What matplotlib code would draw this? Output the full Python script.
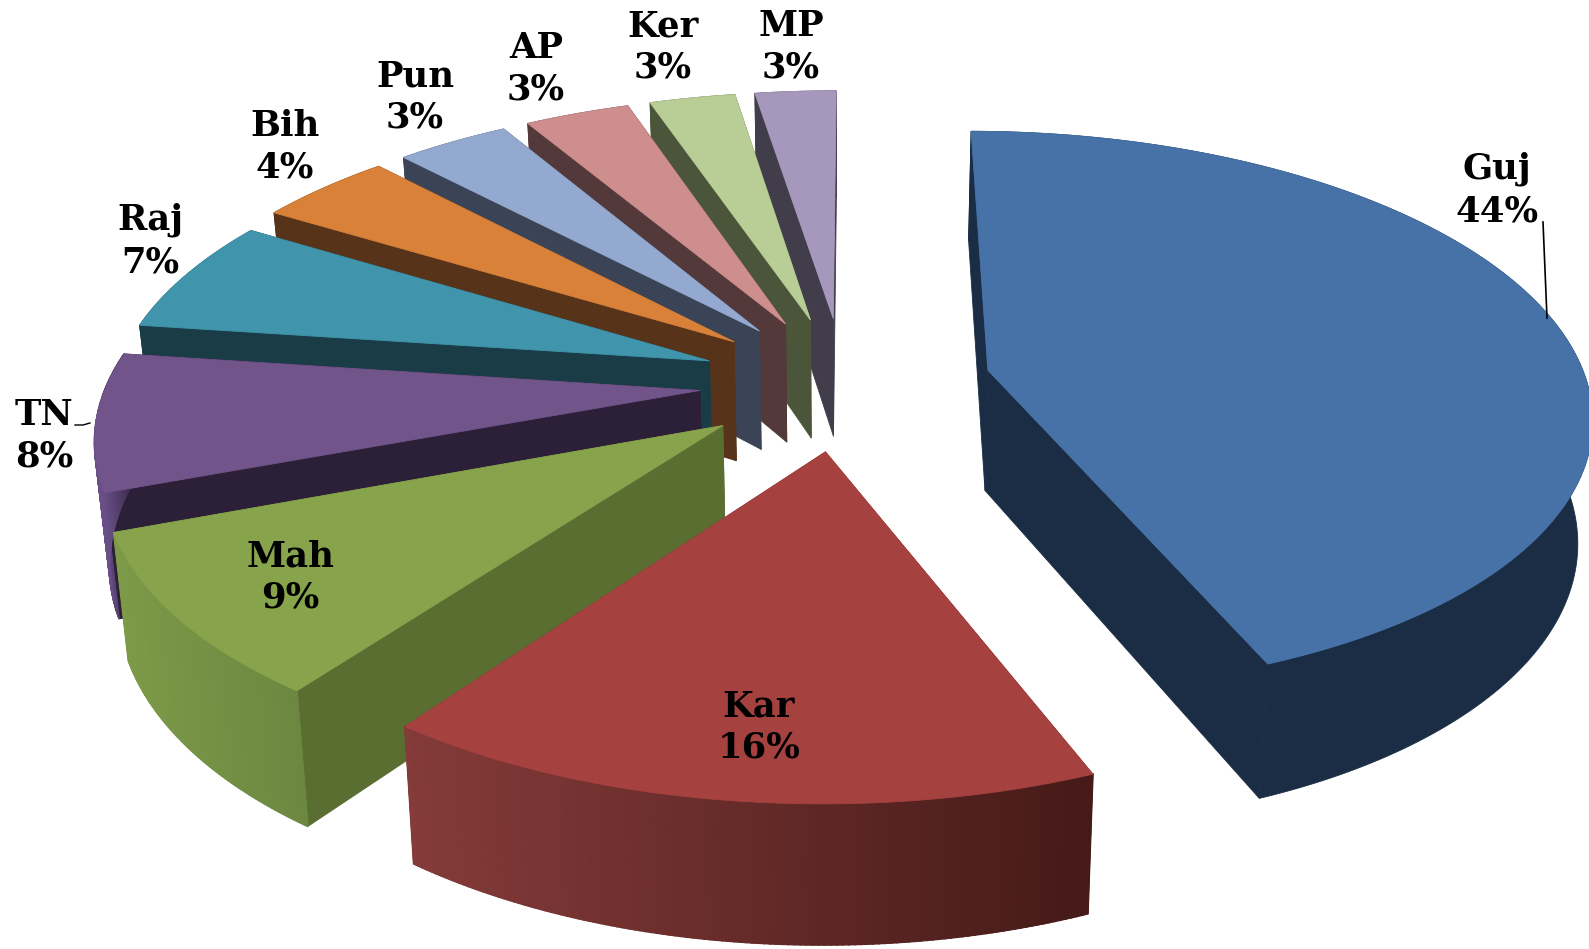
import numpy as np
import matplotlib
matplotlib.use("Agg")
import matplotlib.pyplot as plt

# data
names = ["Guj", "Kar", "Mah", "TN", "Raj", "Bih", "Pun", "AP", "Ker", "MP"]
shares = [43.85, 16.15, 9.25, 7.85, 6.55, 4.25, 3.55, 3.3, 2.7, 2.55]
printed_pct = [44, 16, 9, 8, 7, 4, 3, 3, 3, 3]

# style
top_colors = ["#4672a8", "#a5413f", "#87a34b", "#70548a", "#4095ad",
              "#d98039", "#93a9cf", "#ce8e8e", "#b9cd96", "#a698bc"]
side_colors = ["#1b2d45", "#7a2f2d", "#5a6e32", "#2c2039", "#1a3c47",
               "#57331a", "#3a4456", "#54393a", "#4b5539", "#423d4b"]
wall_from = ["#1b2d45", "#843b39", "#7d9a48", "#6a5088", "#1a3c47",
             "#57331a", "#3a4456", "#54393a", "#4b5539", "#423d4b"]
wall_to = ["#1b2d45", "#451a18", "#6c8740", "#2c2039", "#1a3c47",
           "#57331a", "#3a4456", "#54393a", "#4b5539", "#423d4b"]
explode = [0.245, 0.24, 0.247, 0.24, 0.24, 0.24, 0.24, 0.24, 0.24, 0.24]
reach = [0.995, 0.995, 0.99, 0.985, 0.99, 1, 1, 1, 1, 1]
label_x = [1497, 759, 290, 44, 150, 285, 415, 536, 663, 791]
label_y = [190, 727, 577, 436, 241, 147, 97, 69, 47, 47]
draw_order = [9, 8, 7, 6, 5, 4, 0, 3, 2, 1]

START = 0.05 / 100 * 2 * np.pi
CX, CY, A, B, K = 844.0, 383.0, 602.0, 279.0, 0.148
BX, BY0, BY1 = 0.98, 1.048, 102.5


def top_xy(u, v):
    w = 1 - K * v
    return CX + A * u / w, CY + B * v / w


def bottom_xy(u, v):
    x, y = top_xy(u, v)
    return CX + BX * (x - CX), BY0 * y + BY1


def hex2rgb(c):
    return np.array(matplotlib.colors.to_rgb(c))


fig = plt.figure(figsize=(15.89, 9.49), dpi=100)
ax = fig.add_axes([0, 0, 1, 1])
ax.set_xlim(0, 1589)
ax.set_ylim(949, 0)
ax.axis("off")

edges = START + np.cumsum([0] + shares) / sum(shares) * 2 * np.pi


def poly(xs, ys, color, z, lw=0.6):
    ax.fill(xs, ys, facecolor=color, edgecolor=color, linewidth=lw, zorder=z)


for rank, i in enumerate(draw_order):
    t0, t1 = edges[i], edges[i + 1]
    mid = (t0 + t1) / 2
    ou, ov = explode[i] * np.sin(mid), -explode[i] * np.cos(mid)
    th = np.linspace(t0, t1, max(24, int((t1 - t0) * 120)))
    us, vs = ou + reach[i] * np.sin(th), ov - reach[i] * np.cos(th)
    ax_, ay_ = top_xy(ou, ov)
    bx_, by_ = bottom_xy(ou, ov)
    tx, ty = top_xy(us, vs)
    bx, by = bottom_xy(us, vs)
    z = 10 + rank * 5
    # radial walls
    poly([ax_, tx[0], bx[0], bx_], [ay_, ty[0], by[0], by_], side_colors[i], z)
    poly([ax_, tx[-1], bx[-1], bx_], [ay_, ty[-1], by[-1], by_], side_colors[i], z)
    # outer wall: one solid backing, then left-to-right shading where it varies
    c0, c1 = hex2rgb(wall_from[i]), hex2rgb(wall_to[i])
    poly(np.r_[tx, bx[::-1]], np.r_[ty, by[::-1]], tuple((c0 + c1) / 2), z + 1)
    if wall_from[i] != wall_to[i]:
        xmin, xmax = tx.min(), tx.max()
        for j in range(len(th) - 1):
            f = ((tx[j] + tx[j + 1]) / 2 - xmin) / max(xmax - xmin, 1)
            col = c0 + (c1 - c0) * f
            poly([tx[j], tx[j + 1], bx[j + 1], bx[j]],
                 [ty[j], ty[j + 1], by[j + 1], by[j]], tuple(col), z + 1, lw=1.2)
    # top face
    poly(np.r_[ax_, tx], np.r_[ay_, ty], top_colors[i], z + 2)

# leader lines
ax.plot([1543, 1547], [222, 318], color="black", lw=1.2, zorder=90)
ax.plot([75, 83, 90], [425, 425, 423], color="black", lw=1.0, zorder=90)

for n, s, x, y in zip(names, printed_pct, label_x, label_y):
    ax.text(x, y, f"{n}\n{s}%", ha="center", va="center", ma="center",
            family="DejaVu Serif", weight="bold", fontsize=25.5,
            linespacing=1.28, color="black", zorder=100)

fig.savefig("out.png", dpi=100, facecolor="white")
